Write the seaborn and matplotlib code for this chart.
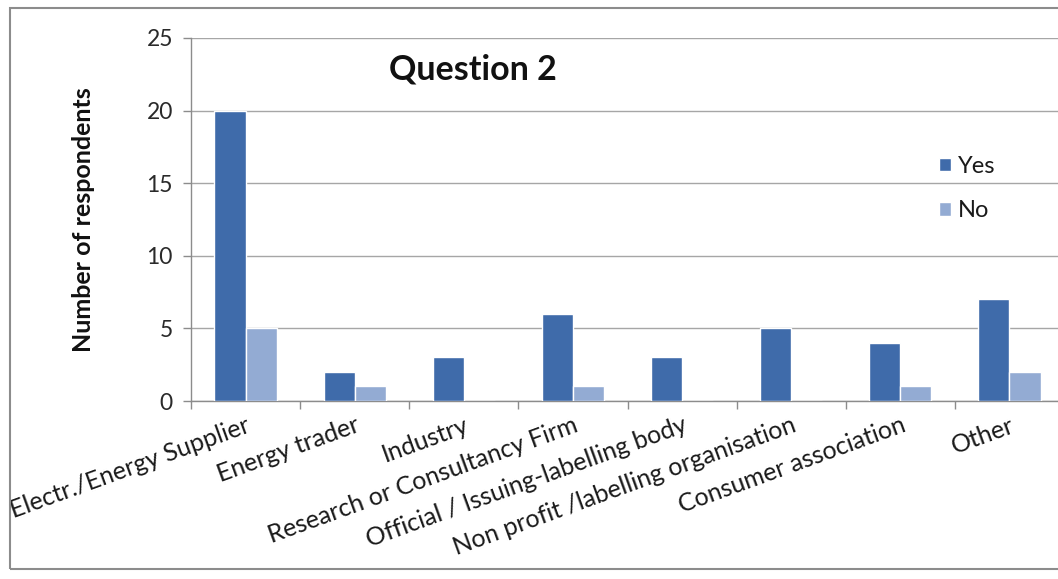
import matplotlib
matplotlib.use("Agg")
import matplotlib.pyplot as plt
from matplotlib.patches import Rectangle
import seaborn as sns
import pandas as pd

categories = [
    "Electr./Energy Supplier",
    "Energy trader",
    "Industry",
    "Research or Consultancy Firm",
    "Official / Issuing-labelling body",
    "Non profit /labelling organisation",
    "Consumer association",
    "Other",
]
yes_counts = [20, 2, 3, 6, 3, 5, 4, 7]
no_counts = [5, 1, 0, 1, 0, 0, 1, 2]
series_names = ["Yes", "No"]
y_ticks = [0, 5, 10, 15, 20, 25]

df = pd.DataFrame({
    "category": categories * 2,
    "answer": [series_names[0]] * len(categories) + [series_names[1]] * len(categories),
    "count": yes_counts + no_counts,
})

sns.set_theme(style="white")
plt.rcParams["font.family"] = ["Lato", "DejaVu Sans"]

fig = plt.figure(figsize=(10.58, 5.79), dpi=100)
ax = fig.add_axes([191 / 1058, 1 - 401 / 579, (1064 - 191) / 1058, (401 - 38) / 579])

palette = {"Yes": "#3F6BAA", "No": "#93ABD3"}
sns.barplot(data=df, x="category", y="count", hue="answer", order=categories,
            hue_order=series_names, palette=palette, width=0.57, saturation=1,
            ax=ax, legend=True, zorder=3)

ax.set_xlim(-0.5, len(categories) - 0.5)
ax.set_ylim(0, 25)
ax.set_yticks(y_ticks)
ax.yaxis.grid(True, color="#A6A6A6", linewidth=1.0, zorder=0)
ax.set_axisbelow(True)

for side in ["top", "right"]:
    ax.spines[side].set_visible(False)
for side in ["left", "bottom"]:
    ax.spines[side].set_color("#8C8C8C")
    ax.spines[side].set_linewidth(1.0)

ax.tick_params(axis="y", which="major", length=6, width=1, color="#8C8C8C",
               labelsize=16.5, labelcolor="#2a2a2a", pad=7, left=True)
ax.set_xticks(range(len(categories)))
ax.set_xticklabels(categories, rotation=20, ha="right", rotation_mode="anchor",
                   fontsize=18, color="#1a1a1a")
ax.tick_params(axis="x", which="major", length=0, pad=9)
ax.set_xticks([i - 0.5 for i in range(len(categories) + 1)], minor=True)
ax.tick_params(axis="x", which="minor", length=6, width=1, color="#8C8C8C", bottom=True)

ax.set_xlabel("")
ax.set_ylabel("Number of respondents", fontsize=18, fontweight="bold",
              color="#111111")
ax.yaxis.set_label_coords(-0.11, 0.5)

ax.text((473 - 191) / 873, (401 - 70) / 363, "Question 2", transform=ax.transAxes,
        fontsize=24.5, fontweight="bold", ha="center", va="center", color="#111111")

leg = ax.legend(loc="center left", bbox_to_anchor=(0.857, 0.585), frameon=False,
                fontsize=17, handlelength=0.5, handleheight=0.5,
                handletextpad=0.3, labelspacing=1.0, borderpad=0, borderaxespad=0)
for t in leg.get_texts():
    t.set_color("#1a1a1a")

fig.patches.append(Rectangle((10 / 1058, 1 - 569 / 579), 1.2, (569 - 8) / 579,
                             transform=fig.transFigure, fill=False,
                             edgecolor="#8C8C8C", linewidth=1.5))

fig.savefig("out.png", dpi=100)
